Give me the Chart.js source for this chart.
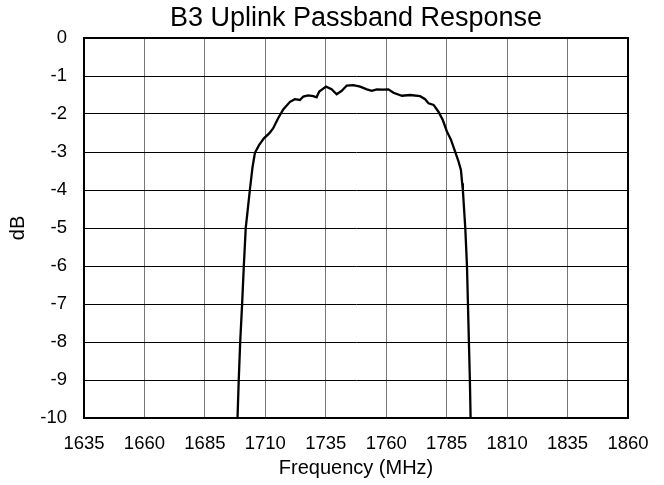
<!DOCTYPE html>
<html>
<head>
<meta charset="utf-8">
<script src="https://cdn.jsdelivr.net/npm/chart.js@4/dist/chart.umd.min.js"></script>
<style>
  body { margin: 0; background: #fff; }
  #wrap { width: 664px; height: 485px; }
</style>
</head>
<body>
<div id="wrap"><canvas id="passbandChart"></canvas></div>
<script>
// frequency in MHz, response in dB
const freqMHz = [
  1698.5, 1699.0, 1699.6, 1700.4, 1701.1, 1701.9, 1703.6, 1704.7, 1705.7, 1707.4,
  1709.4, 1711.6, 1713.2, 1715.3, 1717.4, 1720.2, 1722.2, 1724.3, 1725.7, 1727.7,
  1729.8, 1731.2, 1732.3, 1735.1, 1737.4, 1739.5, 1741.6, 1743.7, 1746.4, 1749.2,
  1752.0, 1754.0, 1756.1, 1758.5, 1760.9, 1763.0, 1766.5, 1769.9, 1774.0, 1776.1,
  1777.5, 1779.6, 1781.6, 1783.4, 1785.1, 1786.8, 1788.5, 1789.9, 1790.9, 1791.4,
  1791.7, 1792.7, 1793.4, 1793.8, 1794.2, 1794.6, 1794.9
];
const responseDb = [
  -10, -9, -8, -7, -6, -5, -4.0, -3.4, -3.02, -2.82,
  -2.64, -2.51, -2.38, -2.11, -1.88, -1.68, -1.61, -1.63, -1.54, -1.51,
  -1.53, -1.56, -1.41, -1.28, -1.35, -1.48, -1.39, -1.25, -1.24, -1.28,
  -1.35, -1.39, -1.35, -1.36, -1.35, -1.44, -1.52, -1.50, -1.53, -1.61,
  -1.72, -1.76, -1.94, -2.16, -2.46, -2.68, -2.99, -3.25, -3.47, -3.82,
  -4.0, -5, -6, -7, -8, -9, -10
];
const xTicks = [1635, 1660, 1685, 1710, 1735, 1760, 1785, 1810, 1835, 1860];
const yTicks = [0, -1, -2, -3, -4, -5, -6, -7, -8, -9, -10];

const points = freqMHz.map((f, i) => ({ x: f, y: responseDb[i] }));

// thick black frame around the plot area
const framePlugin = {
  id: 'frame',
  afterDraw(chart) {
    const { ctx, chartArea: a } = chart;
    ctx.save();
    ctx.strokeStyle = '#000';
    ctx.lineWidth = 2;
    ctx.strokeRect(a.left, a.top, a.right - a.left, a.bottom - a.top);
    ctx.restore();
  }
};

const font = 'Liberation Sans, Arial, sans-serif';

new Chart(document.getElementById('passbandChart'), {
  type: 'scatter',
  data: {
    datasets: [{
      data: points,
      showLine: true,
      borderColor: '#000',
      borderWidth: 2.3,
      pointRadius: 0,
      tension: 0,
      fill: false
    }]
  },
  options: {
    responsive: true,
    maintainAspectRatio: false,
    animation: false,
    layout: { padding: { left: 0, right: 36, top: 0, bottom: 0 } },
    plugins: {
      legend: { display: false },
      tooltip: { enabled: false },
      title: {
        display: true,
        fullSize: false,
        text: 'B3 Uplink Passband Response',
        color: '#000',
        font: { family: font, size: 27, weight: 'normal' },
        padding: { top: 2, bottom: 3.6 }
      }
    },
    scales: {
      x: {
        type: 'linear',
        min: 1635,
        max: 1860,
        afterBuildTicks: s => { s.ticks = xTicks.map(v => ({ value: v })); },
        afterFit: s => { s.height = 67; },
        grid: { color: '#777', lineWidth: 1, drawTicks: false },
        border: { color: '#000', width: 2 },
        ticks: {
          color: '#000',
          padding: 15,
          font: { family: font, size: 18.5 },
          callback: v => String(v)
        },
        title: {
          display: true,
          text: 'Frequency (MHz)',
          color: '#000',
          font: { family: font, size: 20 },
          padding: { top: 0, bottom: 5 }
        }
      },
      y: {
        min: -10,
        max: 0,
        afterBuildTicks: s => { s.ticks = yTicks.map(v => ({ value: v })); },
        afterFit: s => { s.width = 84; },
        grid: { color: '#000', lineWidth: 1, drawTicks: false },
        border: { color: '#000', width: 2 },
        ticks: {
          color: '#000',
          padding: 17,
          font: { family: font, size: 18.5 },
          callback: v => String(v)
        },
        title: {
          display: true,
          text: 'dB',
          color: '#000',
          font: { family: font, size: 20 },
          padding: { top: 6, bottom: 0 }
        }
      }
    }
  },
  plugins: [framePlugin]
});
</script>
</body>
</html>
